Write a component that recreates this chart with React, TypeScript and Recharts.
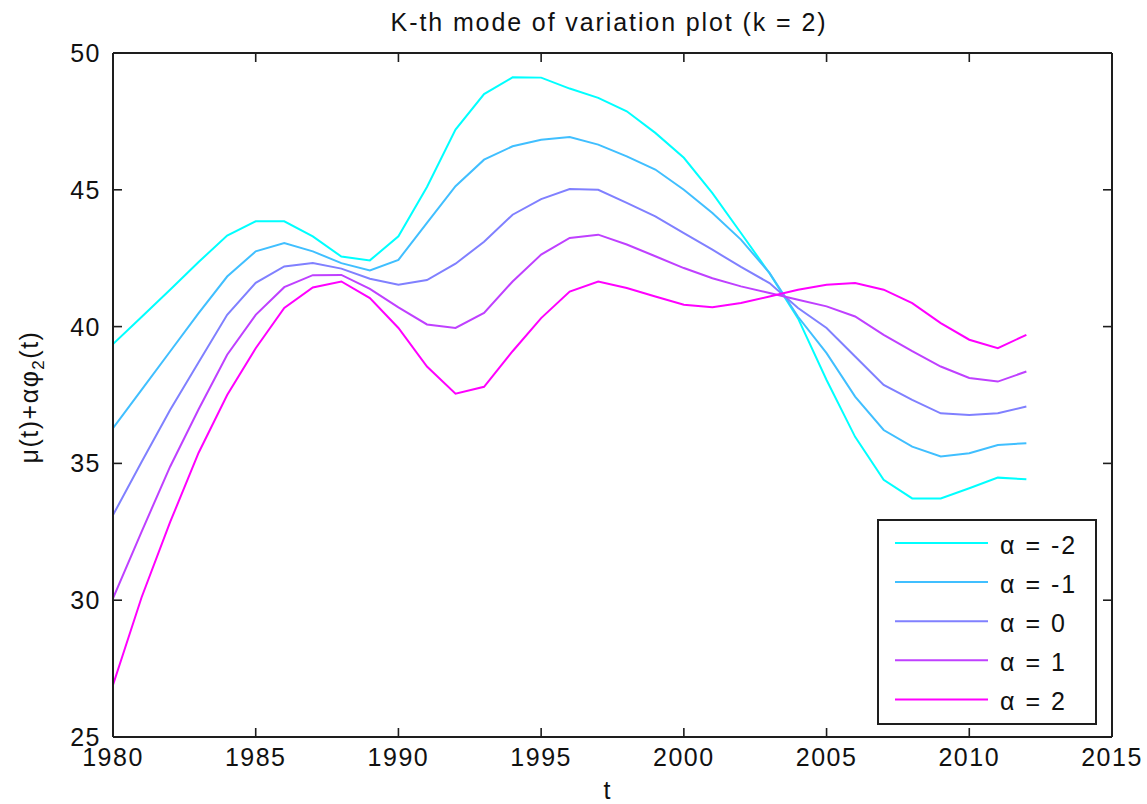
import React from 'react';
import { LineChart, Line, XAxis, YAxis, Legend } from 'recharts';

const years = [
  1980, 1981, 1982, 1983, 1984, 1985, 1986, 1987, 1988, 1989, 1990,
  1991, 1992, 1993, 1994, 1995, 1996, 1997, 1998, 1999, 2000, 2001,
  2002, 2003, 2004, 2005, 2006, 2007, 2008, 2009, 2010, 2011, 2012,
];

const alphaMinus2 = [
  39.36, 40.35, 41.35, 42.36, 43.33, 43.85, 43.85, 43.3, 42.56, 42.42, 43.3,
  45.1, 47.2, 48.5, 49.11, 49.1, 48.7, 48.36, 47.87, 47.08, 46.17, 44.88,
  43.42, 41.95, 40.3, 38.05, 35.97, 34.4, 33.72, 33.72, 34.09, 34.48, 34.42,
];
const alphaMinus1 = [
  36.29, 37.69, 39.09, 40.49, 41.83, 42.75, 43.05, 42.75, 42.32, 42.05, 42.44,
  43.79, 45.13, 46.1, 46.59, 46.83, 46.93, 46.65, 46.22, 45.74, 45.0, 44.15,
  43.18, 41.96, 40.36, 39.03, 37.44, 36.22, 35.61, 35.25, 35.37, 35.67, 35.74,
];
const alphaZero = [
  33.11, 35.05, 36.95, 38.7, 40.43, 41.6, 42.2, 42.32, 42.12, 41.75, 41.53,
  41.7, 42.3, 43.1, 44.09, 44.66, 45.03, 45.0, 44.52, 44.03, 43.42, 42.81,
  42.18, 41.59, 40.68, 39.95, 38.91, 37.87, 37.32, 36.83, 36.77, 36.83, 37.08,
];
const alphaPlus1 = [
  30.07, 32.5, 34.88, 36.98, 38.97, 40.43, 41.44, 41.88, 41.89, 41.38, 40.7,
  40.08, 39.95, 40.5, 41.65, 42.63, 43.24, 43.36, 43.0, 42.57, 42.14, 41.77,
  41.47, 41.23, 40.98, 40.74, 40.37, 39.7, 39.1, 38.54, 38.12, 37.99, 38.36,
];
const alphaPlus2 = [
  26.9, 30.1, 32.85, 35.39, 37.5, 39.21, 40.68, 41.43, 41.65, 41.04, 39.95,
  38.54, 37.55, 37.8, 39.1, 40.31, 41.28, 41.65, 41.41, 41.1, 40.8, 40.71,
  40.86, 41.1, 41.35, 41.53, 41.59, 41.35, 40.86, 40.13, 39.52, 39.21, 39.7,
];

const seriesList = [
  { key: 'am2', name: 'α = -2', color: '#00ffff', values: alphaMinus2 },
  { key: 'am1', name: 'α = -1', color: '#40bfff', values: alphaMinus1 },
  { key: 'a0', name: 'α = 0', color: '#8080ff', values: alphaZero },
  { key: 'ap1', name: 'α = 1', color: '#bf40ff', values: alphaPlus1 },
  { key: 'ap2', name: 'α = 2', color: '#ff00ff', values: alphaPlus2 },
];

const xTicks = [1980, 1985, 1990, 1995, 2000, 2005, 2010, 2015];
const yTicks = [25, 30, 35, 40, 45, 50];

const data = years.map((yr, i) => {
  const row: Record<string, number> = { year: yr };
  seriesList.forEach((s) => {
    row[s.key] = s.values[i];
  });
  return row;
});

const FONT = '"Liberation Sans", Arial, Helvetica, sans-serif';
const AXIS = '#1e1e1e';
const TICK_LEN = 9;
const FS = 25;

const BottomTick = (props: any) => {
  const { x, y, payload } = props;
  return (
    <g>
      <line x1={x} x2={x} y1={y} y2={y - TICK_LEN} stroke={AXIS} strokeWidth={1.6} />
      <text x={x} y={y + 29} textAnchor="middle" fontFamily={FONT} fontSize={FS} letterSpacing={1.5} fill="#111">
        {payload.value}
      </text>
    </g>
  );
};
const TopTick = (props: any) => {
  const { x, y } = props;
  return <line x1={x} x2={x} y1={y} y2={y + TICK_LEN} stroke={AXIS} strokeWidth={1.6} />;
};
const LeftTick = (props: any) => {
  const { x, y, payload } = props;
  return (
    <g>
      <line x1={x} x2={x + TICK_LEN} y1={y} y2={y} stroke={AXIS} strokeWidth={1.6} />
      <text x={x - 12} y={y + 9} textAnchor="end" fontFamily={FONT} fontSize={FS} letterSpacing={1.5} fill="#111">
        {payload.value}
      </text>
    </g>
  );
};
const RightTick = (props: any) => {
  const { x, y } = props;
  return <line x1={x} x2={x - TICK_LEN} y1={y} y2={y} stroke={AXIS} strokeWidth={1.6} />;
};

const LegendBox = () => (
  <div
    style={{
      width: 220,
      height: 206,
      border: `2px solid ${AXIS}`,
      boxSizing: 'border-box',
      background: '#fff',
    }}
  >
    <svg width={216} height={202} style={{ display: 'block' }}>
      {seriesList.map((s, i) => {
        const ry = 22 + i * 39.1;
        return (
          <g key={s.key}>
            <line x1={16} x2={109} y1={ry} y2={ry} stroke={s.color} strokeWidth={2} />
            <text x={121} y={ry + 11} fontFamily={FONT} fontSize={FS} letterSpacing={2} fill="#111">
              {s.name}
            </text>
          </g>
        );
      })}
    </svg>
  </div>
);

export default function App() {
  return (
    <div style={{ position: 'absolute', left: 0, top: 0, width: 1147, height: 804, background: '#fff' }}>
      <LineChart
        width={1147}
        height={804}
        data={data}
        margin={{ top: 52, right: 34, bottom: 17, left: 53 }}
      >
        <XAxis
          xAxisId="bottom"
          dataKey="year"
          type="number"
          domain={[1980, 2015]}
          ticks={xTicks}
          interval={0}
          height={50}
          tickSize={0}
          tickMargin={0}
          tickLine={false}
          axisLine={{ stroke: AXIS, strokeWidth: 2 }}
          tick={<BottomTick />}
          allowDataOverflow
        />
        <XAxis
          xAxisId="top"
          orientation="top"
          dataKey="year"
          type="number"
          domain={[1980, 2015]}
          ticks={xTicks}
          interval={0}
          height={1}
          tickSize={0}
          tickMargin={0}
          tickLine={false}
          axisLine={{ stroke: AXIS, strokeWidth: 2 }}
          tick={<TopTick />}
          allowDataOverflow
        />
        <YAxis
          yAxisId="left"
          type="number"
          domain={[25, 50]}
          ticks={yTicks}
          interval={0}
          width={60}
          tickSize={0}
          tickMargin={0}
          tickLine={false}
          axisLine={{ stroke: AXIS, strokeWidth: 2 }}
          tick={<LeftTick />}
          allowDataOverflow
        />
        <YAxis
          yAxisId="right"
          orientation="right"
          type="number"
          domain={[25, 50]}
          ticks={yTicks}
          interval={0}
          width={1}
          tickSize={0}
          tickMargin={0}
          tickLine={false}
          axisLine={{ stroke: AXIS, strokeWidth: 2 }}
          tick={<RightTick />}
          allowDataOverflow
        />
        {seriesList.map((s) => (
          <Line
            key={s.key}
            xAxisId="bottom"
            yAxisId="left"
            type="linear"
            dataKey={s.key}
            name={s.name}
            stroke={s.color}
            strokeWidth={2}
            dot={false}
            activeDot={false}
            isAnimationActive={false}
          />
        ))}
        <Legend
          layout="vertical"
          align="center"
          verticalAlign="middle"
          width={220}
          height={206}
          wrapperStyle={{ left: 877, top: 519, width: 220, height: 206 }}
          content={<LegendBox />}
        />
      </LineChart>
      <svg
        width={1147}
        height={804}
        style={{ position: 'absolute', left: 0, top: 0, pointerEvents: 'none' }}
      >
        <text x={609} y={31} textAnchor="middle" fontFamily={FONT} fontSize={FS} letterSpacing={1.9} fill="#111">
          K-th mode of variation plot (k = 2)
        </text>
        <text x={607} y={799} textAnchor="middle" fontFamily={FONT} fontSize={FS} fill="#111">
          t
        </text>
        <text
          x={38}
          y={397}
          textAnchor="middle"
          transform="rotate(-90, 38, 397)"
          fontFamily={FONT}
          fontSize={FS}
          letterSpacing={1.5}
          fill="#111"
        >
          μ(t)+αφ
          <tspan dy={6} fontSize={17}>2</tspan>
          <tspan dy={-6}>(t)</tspan>
        </text>
      </svg>
    </div>
  );
}
